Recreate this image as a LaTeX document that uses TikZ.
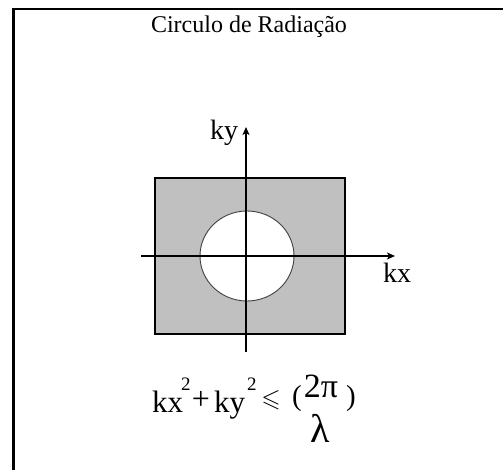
\documentclass[tikz,border=0pt]{standalone}
\usepackage{amssymb}
\usepackage{fontspec}
\setmainfont{Liberation Serif}
\usetikzlibrary{arrows.meta}
\definecolor{radgray}{HTML}{C0C0C0}
\definecolor{radink}{HTML}{000000}
\definecolor{radrim}{HTML}{404040}
\tikzset{
  txt/.style={inner sep=0pt, text=radink},
  big/.style={txt, font=\fontsize{31}{31}\selectfont},
  lab/.style={txt, font=\fontsize{28}{28}\selectfont, anchor=base west},
  sup/.style={txt, font=\fontsize{19}{19}\selectfont, anchor=base west},
  axis/.style={-{Stealth[length=8pt, width=7pt, inset=2pt]}, line width=1.4pt, color=radink},
  frame/.style={draw=radink, line width=2.6pt},
}
\begin{document}
\begin{tikzpicture}[x=1pt, y=-1pt]
    \useasboundingbox (0,0) rectangle (503,470);
    % frame, only left and top
    \draw[frame] (13.3,470) -- (13.3,8.9) -- (503,8.9);
    \node[txt, font=\fontsize{24}{24}\selectfont, anchor=base] (title) at (249,33) {Circulo de Radiação};
    % k-plane
    \draw[radink, line width=1.3pt, fill=radgray] (155,178) rectangle (345,334);
    \draw[radrim, line width=0.9pt, fill=white] (247,256) ellipse [x radius=47, y radius=45];
    \coordinate (xa) at (141,256);
    \coordinate (xb) at (395,256);
    \coordinate (ya) at (246,352);
    \coordinate (yb) at (246,127);
    \draw[axis] (xa) -- (xb);
    \draw[axis] (ya) -- (yb);
    \node[lab] (kx) at (383,283) {kx};
    \node[lab] (ky) at (210,140) {ky};
    % radiation condition
    \node[big, anchor=base west] (f1) at (152,412) {kx};
    \node[sup] (s1) at (181,390) {2};
    \node[txt, font=\fontsize{32}{32}\selectfont] (pl) at (201,400) {+};
    \node[big, anchor=base west] (f2) at (214,412) {ky};
    \node[sup] (s2) at (247,390) {2};
    \node[txt, font=\fontsize{25}{25}\selectfont] (le) at (271,400) {$\leqslant$};
    \node[txt, font=\fontsize{29}{29}\selectfont, anchor=base west] (lp) at (292,405) {(};
    \node[txt, font=\fontsize{34}{34}\selectfont, anchor=base] (tp) at (321,397) {2π};
    \node[txt, font=\fontsize{29}{29}\selectfont, anchor=base west] (rp) at (346,405) {)};
    \node[txt, font=\fontsize{40}{40}\selectfont, anchor=base] (lm) at (320,442) {λ};
  \end{tikzpicture}
\end{document}
